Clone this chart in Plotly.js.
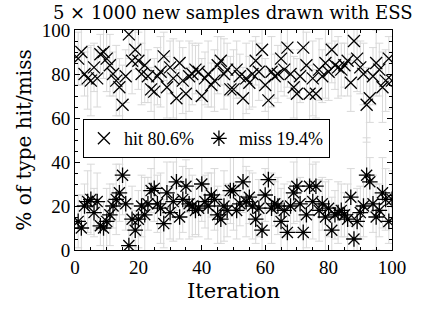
<!DOCTYPE html>
<html>
<head>
<meta charset="utf-8">
<script src="https://cdn.plot.ly/plotly-3.0.1.min.js"></script>
<style>html,body{margin:0;padding:0;background:#fff;}#chart{width:435px;height:316px;}</style>
</head>
<body>
<div id="chart"></div>
<script>
const iterations = Array.from({length: 100}, (_, k) => k + 1);
const missValues = [13,10,20,22,23,17,22,11,10,13,
  16,20,23,26,34,21,2,14,9,14,
  20,16,21,27,28,21,19,12,26,17,
  22,31,15,23,29,21,20,18,19,30,
  22,20,25,23,16,14,20,18,27,27,
  18,21,31,22,24,20,14,19,9,25,
  32,19,21,20,13,18,8,20,26,29,
  21,8,16,29,22,29,18,21,15,19,
  9,16,17,18,16,14,24,5,13,17,
  20,34,31,21,15,18,26,23,13,23];
const hitValues = [87,90,80,78,77,83,78,89,90,87,
  84,80,77,74,66,79,98,86,91,86,
  80,84,79,73,72,79,81,88,74,83,
  78,69,85,77,71,79,80,82,81,70,
  78,80,75,77,84,86,80,82,73,73,
  82,79,69,78,76,80,86,81,91,75,
  68,81,79,80,87,82,92,80,74,71,
  79,92,84,71,78,71,82,79,85,81,
  91,84,83,82,84,86,76,95,87,83,
  80,66,69,79,85,82,74,77,87,77];
const errHalf = [12,15,10,14,16,11,13,9,12,15,
  14,10,16,13,18,12,11,15,9,13,
  14,17,12,10,15,13,16,11,14,12,
  18,13,10,15,12,16,14,11,13,17,
  12,15,10,14,13,11,16,12,15,18,
  13,10,14,16,12,15,11,13,17,12,
  14,16,10,13,15,12,18,11,14,16,
  12,10,15,13,17,11,14,12,16,13,
  15,11,14,12,10,16,13,9,15,12,
  14,17,11,13,15,12,16,14,10,13];
const seriesNames = ['hit 80.6%', 'miss 19.4%'];
const xTicks = [0, 20, 40, 60, 80, 100];
const yTicks = [0, 20, 40, 60, 80, 100];

const errStyle = {type: 'data', array: errHalf, visible: true, color: '#d9d9d9', thickness: 1, width: 4};
const traces = [
  {x: iterations, y: hitValues, name: seriesNames[0], type: 'scatter', mode: 'markers',
   marker: {symbol: 'x-thin-open', size: 12, color: '#000', line: {color: '#000', width: 1.3}},
   error_y: errStyle},
  {x: iterations, y: missValues, name: seriesNames[1], type: 'scatter', mode: 'markers',
   marker: {symbol: 'asterisk-open', size: 13, color: '#000', line: {color: '#000', width: 1.3}},
   error_y: errStyle}
];
const axisBase = {showgrid: false, zeroline: false, showline: true, linecolor: '#000', linewidth: 1,
  mirror: 'allticks', ticks: 'inside', ticklen: 5, tickcolor: '#000',
  tickfont: {family: 'Liberation Serif', size: 19, color: '#000'},
  minor: {dtick: 5, ticks: 'inside', ticklen: 3, tickcolor: '#000'}};
const layout = {
  width: 435, height: 316,
  margin: {l: 75, r: 43, t: 30, b: 66},
  paper_bgcolor: '#fff', plot_bgcolor: '#fff',
  showlegend: true,
  title: {text: '5 × 1000 new samples drawn with ESS', x: 0.535, xanchor: 'center', y: 0.98, yanchor: 'top', yref: 'container',
    font: {family: 'DejaVu Serif', size: 18, color: '#000'}},
  xaxis: Object.assign({}, axisBase, {range: [0, 100], tickvals: xTicks, ticktext: xTicks.map(String),
    title: {text: 'Iteration', font: {family: 'DejaVu Serif', size: 21, color: '#000'}, standoff: 6}}),
  yaxis: Object.assign({}, axisBase, {range: [0, 100], tickvals: yTicks, ticktext: yTicks.map(String),
    title: {text: '% of type hit/miss', font: {family: 'DejaVu Serif', size: 20, color: '#000'}, standoff: 4}}),
  legend: {orientation: 'h', x: 0.025, y: 0.595, xanchor: 'left', yanchor: 'top',
    bordercolor: '#000', borderwidth: 1, bgcolor: '#fff',
    font: {family: 'Liberation Serif', size: 18, color: '#000'}, itemwidth: 30, tracegroupgap: 0}
};
Plotly.newPlot('chart', traces, layout, {displayModeBar: false, staticPlot: true});
</script>
</body>
</html>
